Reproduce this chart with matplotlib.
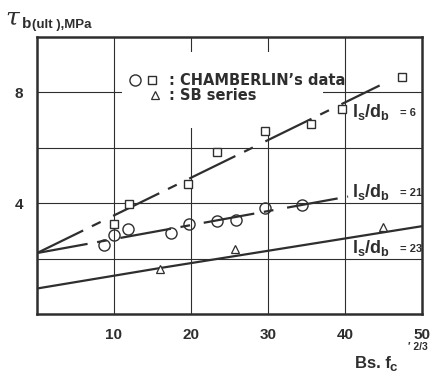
import matplotlib
matplotlib.use('Agg')
import matplotlib.pyplot as plt
from matplotlib.lines import Line2D
from matplotlib.patches import Rectangle
from matplotlib.legend_handler import HandlerTuple

W, H = 434, 374
ink = '#2e2e2e'

# CHAMBERLIN's data (squares and circles)
squareX = [10.0, 11.9, 19.6, 23.4, 29.6, 35.6, 39.6, 47.4]
squareY = [3.24, 3.96, 4.68, 5.84, 6.62, 6.85, 7.39, 8.57]
circleX = [8.7, 10.0, 11.8, 17.4, 19.7, 23.4, 25.8, 29.6, 34.4]
circleY = [2.49, 2.85, 3.06, 2.93, 3.24, 3.35, 3.39, 3.82, 3.93]
# SB series
triangleX = [16.0, 25.7, 44.9]
triangleY = [1.62, 2.34, 3.14]

# design lines
line6X = [0, 44.5]
line6Y = [2.2, 8.25]
line21X = [0, 40.4]
line21Y = [2.2, 4.24]
line23X = [0, 16, 50]
line23Y = [0.92, 1.66, 3.17]

xTicks = [10, 20, 30, 40, 50]
yTicks = [4, 8]
xGrid = [10, 20, 30, 40]
yGrid = [2, 4, 6, 8]

plt.rcParams['lines.scale_dashes'] = False
plt.rcParams['font.family'] = ['Liberation Sans', 'DejaVu Sans']
plt.rcParams['font.weight'] = 'bold'
plt.rcParams['mathtext.fontset'] = 'custom'
plt.rcParams['mathtext.rm'] = 'Liberation Sans:bold'
plt.rcParams['mathtext.bf'] = 'Liberation Sans:bold'
plt.rcParams['mathtext.it'] = 'Liberation Sans:bold'


def fx(px):
    return px / W


def fy(py):
    return 1 - py / H


fig = plt.figure(figsize=(W / 100, H / 100), dpi=100)
ax = fig.add_axes([fx(37), fy(314), 385 / W, 277 / H])
ax.set_xlim(0, 50)
ax.set_ylim(0, 10)

for x in xGrid:
    ax.axvline(x, color=ink, lw=0.8, zorder=1)
for y in yGrid:
    ax.axhline(y, color=ink, lw=0.8, zorder=1)
# blank area behind the key
ax.add_patch(Rectangle((11, 6.7), 26.1, 2.76, facecolor='white', edgecolor='none', zorder=1.5))

dash = (0, (37, 7, 7, 10))
ax.plot(line6X, line6Y, color=ink, lw=1.6, linestyle=dash, zorder=2)
ax.plot(line21X, line21Y, color=ink, lw=1.6, linestyle=dash, zorder=2)
ax.plot(line23X, line23Y, color=ink, lw=1.6, zorder=2)

sq, = ax.plot(squareX, squareY, 's', ms=6, mfc='white', mec=ink, mew=1.0, zorder=3)
ci, = ax.plot(circleX, circleY, 'o', ms=8, mfc='none', mec=ink, mew=1.0, zorder=3)
tr, = ax.plot(triangleX, triangleY, '^', ms=5.5, mfc='white', mec=ink, mew=0.9, zorder=3)

blank = Line2D([], [], linestyle='none')
leg = ax.legend([(ci, sq), (blank, blank, tr)], [': CHAMBERLIN\u2019s data', ': SB series'],
                handler_map={tuple: HandlerTuple(ndivide=None, pad=0)},
                loc='upper left', bbox_to_anchor=(fx(126), fy(73)), bbox_transform=fig.transFigure,
                frameon=False, borderpad=0, borderaxespad=0, handlelength=2.35,
                handletextpad=0.6, labelspacing=0.0,
                prop={'family': 'DejaVu Sans', 'weight': 'bold', 'size': 10.5})
for t in leg.get_texts():
    t.set_color(ink)

ax.set_xticks(xTicks)
ax.set_xticklabels([str(v) for v in xTicks])
ax.set_yticks(yTicks)
ax.set_yticklabels([str(v) for v in yTicks])
ax.tick_params(length=0, labelsize=11, labelcolor=ink)
ax.tick_params(axis='x', pad=10)
ax.tick_params(axis='y', pad=10)
for s in ax.spines.values():
    s.set_linewidth(1.8)
    s.set_color(ink)

# line labels
labels = [('6', 117), ('21', 197), ('23', 253)]
for val, base in labels:
    fig.text(fx(352), fy(base), r'$\mathbf{l_s/d_b}$', fontsize=13, color=ink, va='baseline')
    fig.text(fx(400), fy(base - 1), '= ' + val, fontsize=8, color=ink, va='baseline')

# axis titles
fig.text(fx(5), fy(24), '\u03c4', family='DejaVu Serif', style='italic', weight='normal',
         fontsize=18, color=ink, va='baseline')
fig.text(fx(22), fy(28), 'b', fontsize=11, color=ink, va='baseline')
fig.text(fx(32), fy(28), '(ult ),MPa', fontsize=9.5, color=ink, va='baseline')

fig.text(fx(355), fy(368), 'Bs. f', fontsize=12, color=ink, va='baseline')
fig.text(fx(390), fy(371), 'c', fontsize=9.5, color=ink, va='baseline')
fig.text(fx(408), fy(350), '\u2032 2/3', fontsize=7.5, color=ink, va='baseline')

fig.savefig('out.png', dpi=100)
